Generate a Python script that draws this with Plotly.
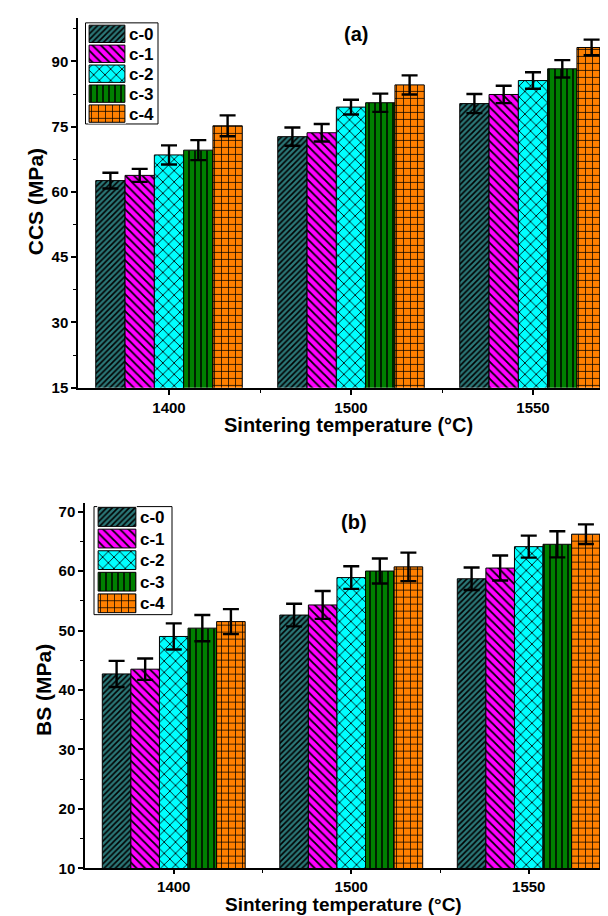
import plotly.graph_objects as go

# ---------------- data ----------------
temps = ["1400", "1500", "1550"]
series = ["c-0", "c-1", "c-2", "c-3", "c-4"]

ccs = {
    "c-0": [62.6, 72.7, 80.3],
    "c-1": [63.8, 73.6, 82.4],
    "c-2": [68.5, 79.5, 85.6],
    "c-3": [69.6, 80.5, 88.3],
    "c-4": [75.2, 84.6, 93.2],
}
ccs_err = {
    "c-0": [1.8, 2.1, 2.2],
    "c-1": [1.5, 2.0, 2.0],
    "c-2": [2.2, 1.7, 1.9],
    "c-3": [2.3, 2.1, 2.0],
    "c-4": [2.4, 2.2, 1.8],
}
bs = {
    "c-0": [42.7, 52.6, 58.7],
    "c-1": [43.5, 54.3, 60.5],
    "c-2": [49.0, 58.9, 64.1],
    "c-3": [50.4, 60.0, 64.5],
    "c-4": [51.5, 60.7, 66.2],
}
bs_err = {
    "c-0": [2.2, 1.9, 1.9],
    "c-1": [1.8, 2.35, 2.1],
    "c-2": [2.2, 1.9, 1.85],
    "c-3": [2.2, 2.1, 2.2],
    "c-4": [2.1, 2.4, 1.65],
}

# ---------------- styles ----------------
colors = {"c-0": "#2B7777", "c-1": "#FF00FF", "c-2": "#00FFFF", "c-3": "#008000", "c-4": "#FF8000"}
shapes_ = {"c-0": "/", "c-1": "\\", "c-2": "x", "c-3": "|", "c-4": "+"}
psize = {"c-0": 4, "c-1": 6, "c-2": 8, "c-3": 6, "c-4": 7}
psolid = {"c-0": 0.4, "c-1": 0.3, "c-2": 0.2, "c-3": 0.25, "c-4": 0.2}

W, H = 608, 916
FONT = "Liberation Sans, Arial, sans-serif"


def px(x):
    return x / W


def py(y):
    return 1 - y / H


def marker_for(s):
    return dict(color=colors[s], line=dict(color="black", width=1),
                pattern=dict(shape=shapes_[s], size=psize[s], solidity=psolid[s],
                             fgcolor="black", bgcolor=colors[s], fgopacity=1))


xpos = list(range(len(temps)))

fig = go.Figure()


def add_panel(data, err, xa, ya):
    for s in series:
        fig.add_trace(go.Bar(
            x=xpos, y=data[s], name=s, xaxis=xa, yaxis=ya, showlegend=False,
            marker=marker_for(s),
            error_y=dict(type="data", array=err[s], color="black", thickness=2.4, width=8),
        ))


add_panel(ccs, ccs_err, "x", "y")
add_panel(bs, bs_err, "x2", "y2")

# legend swatches drawn as bars on small axes
for xa, ya in (("x3", "y3"), ("x4", "y4")):
    for s in series:
        fig.add_trace(go.Bar(
            y=[s], x=[1], orientation="h", xaxis=xa, yaxis=ya, name=s,
            showlegend=False, width=0.87, offset=-0.435, hoverinfo="skip",
            marker=marker_for(s),
        ))

tickfont = dict(family=FONT, size=15, color="black", weight="bold")

# panel geometry (pixels)
top = dict(l=70, t=10, b=383, cat=182, tk=54.5, tl=5)
bot = dict(l=77, t=499, b=868, cat=177.5, tk=53.5, tl=4)


def xaxis_cfg(g):
    span = (W - g["l"]) / g["cat"]
    return dict(
        domain=[px(g["l"]), 1], range=[-0.5, -0.5 + span],
        tickmode="array", tickvals=xpos, ticktext=temps,
        showline=True, linecolor="black", linewidth=2,
        ticks="outside", ticklen=g["tl"], tickwidth=1.5, tickcolor="black",
        minor=dict(tickmode="array", tickvals=[i + 0.5 for i in xpos[:-1]],
                   ticks="outside", ticklen=3, tickwidth=1, tickcolor="black"),
        showgrid=False, zeroline=False, tickfont=tickfont, fixedrange=True,
    )


def yaxis_cfg(g, rng, dt):
    return dict(
        domain=[py(g["b"]), py(g["t"])], range=rng,
        tick0=rng[0], dtick=dt,
        showline=True, linecolor="black", linewidth=1.5,
        ticks="outside", ticklen=5, tickwidth=1.5, tickcolor="black",
        minor=dict(dtick=dt / 2, tick0=rng[0], ticks="outside", ticklen=3, tickwidth=1, tickcolor="black"),
        showgrid=False, zeroline=False, tickfont=tickfont, fixedrange=True,
    )


def topaxis_cfg(g, over, anchor):
    return dict(
        overlaying=over, anchor=anchor, side="top",
        range=[0, (W - g["l"]) / g["tk"]], dtick=1, tick0=0,
        showline=True, linecolor="black", linewidth=1.5,
        ticks="inside", ticklen=3, tickwidth=1, tickcolor="black",
        showticklabels=False, showgrid=False, zeroline=False, fixedrange=True,
    )


def leg_axes(x0, x1, y0, y1):
    xa = dict(domain=[px(x0), px(x1)], range=[-0.03, 1.03], visible=False, fixedrange=True)
    ya = dict(domain=[py(y1), py(y0)], range=[len(series) - 0.5, -0.5], side="right",
              type="category", categoryorder="array", categoryarray=series,
              tickmode="array", tickvals=series, ticktext=series,
              showline=False, ticks="", showgrid=False, zeroline=False,
              tickfont=dict(family=FONT, size=17, color="black", weight="bold"),
              ticklabelstandoff=2, fixedrange=True)
    return xa, ya


x3, y3 = leg_axes(80, 118, 16, 116.6)
x4, y4 = leg_axes(89, 129, 502.6, 611.4)
x3["anchor"] = "y3"; y3["anchor"] = "x3"
x4["anchor"] = "y4"; y4["anchor"] = "x4"

fig.update_layout(
    width=W, height=H, margin=dict(l=0, r=0, t=0, b=0),
    paper_bgcolor="white", plot_bgcolor="white",
    barmode="group", bargap=0.195, bargroupgap=0,
    showlegend=False,
    xaxis=dict(**xaxis_cfg(top), anchor="y"),
    yaxis=dict(**yaxis_cfg(top, [15, 100], 15), anchor="x"),
    xaxis2=dict(**xaxis_cfg(bot), anchor="y2"),
    yaxis2=dict(**yaxis_cfg(bot, [10, 71.5], 10), anchor="x2"),
    xaxis3=x3, yaxis3=y3, xaxis4=x4, yaxis4=y4,
    xaxis5=topaxis_cfg(top, "x", "y"),
    xaxis6=topaxis_cfg(bot, "x2", "y2"),
    font=dict(family=FONT, color="black"),
)

# legend frames
for (x0, y0, x1, y1) in ((77.5, 15, 150, 117), (86, 503, 164, 612)):
    fig.add_shape(type="rect", xref="paper", yref="paper",
                  x0=px(x0), x1=px(x1), y0=py(y1), y1=py(y0),
                  line=dict(color="black", width=1), fillcolor="rgba(0,0,0,0)", layer="below")

titlefont = dict(family=FONT, size=20, color="black", weight="bold")
ann = [
    ("(a)", 348, 26, 20),
    ("(b)", 346, 519, 20),
    ("Sintering temperature (°C)", 340, 421, 20),
    ("Sintering temperature (°C)", 335, 904.5, 19),
    ("CCS (MPa)", 27, 196, 21),
    ("BS (MPa)", 36, 688, 21),
]
for text, x, y, size in ann:
    f = dict(titlefont)
    f["size"] = size
    fig.add_annotation(text=text, x=px(x), y=py(y), xref="paper", yref="paper",
                       showarrow=False, textangle=-90 if "MPa" in text else 0, font=f,
                       xanchor="center", yanchor="middle")

fig.write_html("out.html")
